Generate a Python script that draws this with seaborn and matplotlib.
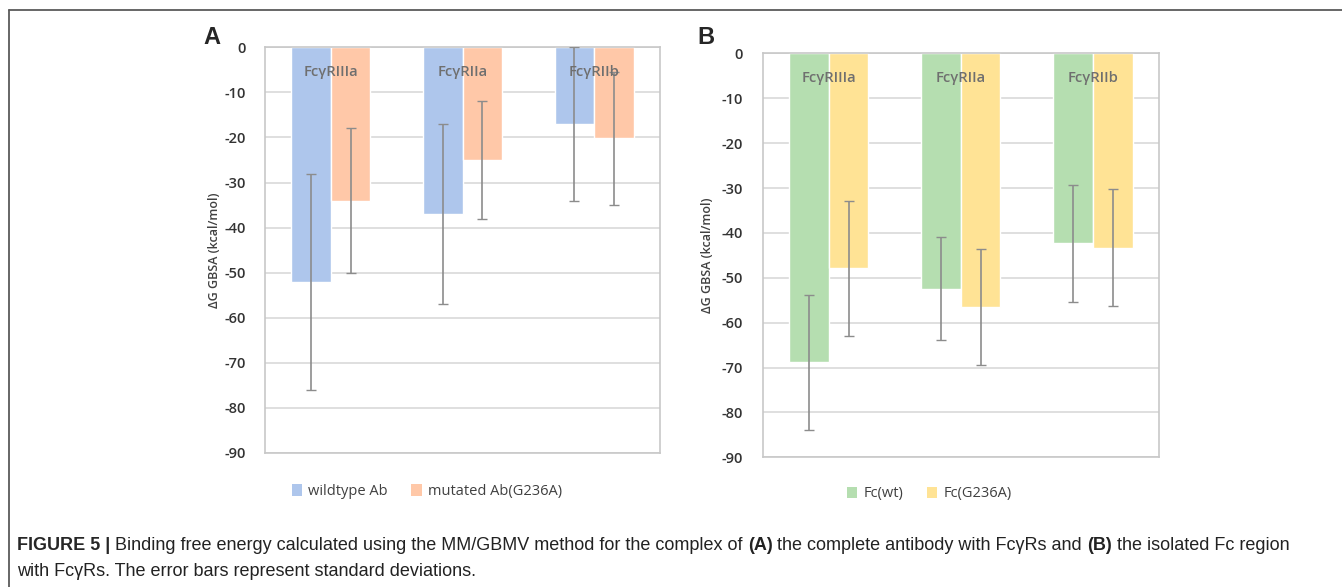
import matplotlib
import matplotlib.pyplot as plt
import pandas as pd
import seaborn as sns
from matplotlib.patches import Patch

matplotlib.use("Agg")

# data (kcal/mol)
receptors = ["FcγRIIIa", "FcγRIIa", "FcγRIIb"]

ab_series = ["wildtype Ab", "mutated Ab(G236A)"]
ab_wt_mean = [-52.0, -37.0, -17.0]
ab_wt_sd = [24.0, 20.0, 17.0]
ab_mut_mean = [-34.0, -25.0, -20.2]
ab_mut_sd = [16.0, 13.0, 14.8]

fc_series = ["Fc(wt)", "Fc(G236A)"]
fc_wt_mean = [-68.8, -52.4, -42.3]
fc_wt_sd = [15.0, 11.5, 13.0]
fc_mut_mean = [-47.9, -56.5, -43.3]
fc_mut_sd = [15.0, 13.0, 13.0]

ab_colors = ["#AEC6EC", "#FFC8A8"]
fc_colors = ["#B5DEB0", "#FFE395"]

y_ticks = list(range(0, -100, -10))


def make_frame(series, means, sds):
    rows = []
    for name, m, s in zip(series, means, sds):
        for rec, mv, sv in zip(receptors, m, s):
            rows.append({"receptor": rec, "series": name, "dg": mv, "sd": sv})
    return pd.DataFrame(rows)


def draw_panel(fig, rect, df, series, colors, label_x, legend_anchor):
    ax = fig.add_axes(rect)
    sns.barplot(
        data=df,
        x="receptor",
        y="dg",
        hue="series",
        hue_order=series,
        order=receptors,
        palette=colors,
        saturation=1,
        width=0.6,
        errorbar=None,
        ax=ax,
        zorder=2,
    )
    # error bars at bar centres
    for container, name in zip(ax.containers, series):
        sub = df[df["series"] == name].set_index("receptor").loc[receptors]
        xs = [p.get_x() + p.get_width() / 2 for p in container.patches]
        ax.errorbar(
            xs,
            sub["dg"].values,
            yerr=sub["sd"].values,
            fmt="none",
            ecolor="#8c8c8c",
            elinewidth=1.2,
            capsize=3.5,
            capthick=1.0,
            zorder=3,
        )
    for i, rec in enumerate(receptors):
        ax.text(i, -5.4, rec, ha="center", va="center", fontsize=10.6,
                color="#6f6f6f", fontweight="semibold", family="Open Sans", zorder=4)

    ax.set_ylim(-90, 0)
    ax.set_xlim(-0.5, 2.5)
    ax.set_yticks(y_ticks)
    ax.set_xticks([])
    ax.set_xlabel("")
    ax.set_ylabel("ΔG GBSA (kcal/mol)", fontsize=9, color="#404040", family="Open Sans",
                  fontweight="semibold")
    ax.yaxis.set_label_coords(label_x, 0.5)
    ax.tick_params(axis="y", length=0, pad=14, labelsize=10.5, labelcolor="#333333")
    for t in ax.get_yticklabels():
        t.set_family("Open Sans")
        t.set_fontweight("semibold")
    ax.grid(axis="y", color="#d9d9d9", linewidth=1.2, zorder=0)
    ax.grid(axis="x", visible=False)
    for spine in ax.spines.values():
        spine.set_visible(True)
        spine.set_color("#c8c8c8")
        spine.set_linewidth(1.2)
    ax.set_facecolor("white")
    if ax.get_legend() is not None:
        ax.get_legend().remove()
    handles = [Patch(facecolor=c, edgecolor="none") for c in colors]
    ax.legend(handles, series, loc="center", bbox_to_anchor=legend_anchor, ncol=2,
              frameon=False, handlelength=0.7, handleheight=0.8, handletextpad=0.45,
              columnspacing=1.6, prop={"family": "Open Sans", "size": 10.5})
    for t in ax.get_legend().get_texts():
        t.set_color("#404040")
    return ax


def main() -> None:
    sns.set_theme(style="white")
    plt.rcParams["axes.unicode_minus"] = False
    fig = plt.figure(figsize=(13.42, 5.87), dpi=100, facecolor="white")

    ab_df = make_frame(ab_series, [ab_wt_mean, ab_mut_mean], [ab_wt_sd, ab_mut_sd])
    fc_df = make_frame(fc_series, [fc_wt_mean, fc_mut_mean], [fc_wt_sd, fc_mut_sd])

    draw_panel(fig, [0.1975, 0.2283, 0.2943, 0.6911], ab_df, ab_series, ab_colors,
               -0.111, (0.41, -0.095))
    draw_panel(fig, [0.5683, 0.2209, 0.2953, 0.6882], fc_df, fc_series, fc_colors,
               -0.123, (0.42, -0.09))

    # panel letters
    fig.text(212 / 1342, 1 - 38 / 587, "A", fontsize=17, fontweight="bold",
             ha="center", va="center", family="Liberation Sans")
    fig.text(706 / 1342, 1 - 38 / 587, "B", fontsize=17, fontweight="bold",
             ha="center", va="center", family="Liberation Sans")

    # figure frame: top and left rules
    fig.add_artist(plt.Line2D([9 / 1342, 1.0], [1 - 10 / 587] * 2, color="#5a5a5a",
                              linewidth=1.3, transform=fig.transFigure))
    fig.add_artist(plt.Line2D([9 / 1342] * 2, [0.0, 1 - 10 / 587], color="#5a5a5a",
                              linewidth=1.3, transform=fig.transFigure))

    cap_font = "Liberation Sans"
    cap_size = 13.0
    y1 = 1 - 545 / 587
    y2 = 1 - 571 / 587
    t1 = fig.text(17 / 1342, y1, "FIGURE 5 | ", fontsize=cap_size, fontweight="bold",
                  family=cap_font, va="center")
    fig.canvas.draw()
    x_next = t1.get_window_extent().x1 / fig.bbox.width
    parts = [
        ("Binding free energy calculated using the MM/GBMV method for the complex of ", "normal"),
        ("(A)", "bold"),
        (" the complete antibody with FcγRs and ", "normal"),
        ("(B)", "bold"),
        (" the isolated Fc region", "normal"),
    ]
    for txt, wt in parts:
        t = fig.text(x_next, y1, txt, fontsize=cap_size, fontweight=wt, family=cap_font,
                     va="center", color="#222222")
        fig.canvas.draw()
        x_next = t.get_window_extent().x1 / fig.bbox.width
    fig.text(17 / 1342, y2, "with FcγRs. The error bars represent standard deviations.",
             fontsize=cap_size, family=cap_font, va="center", color="#222222")

    fig.savefig("out.png", dpi=100, facecolor="white")
    plt.close(fig)


if __name__ == "__main__":
    main()
